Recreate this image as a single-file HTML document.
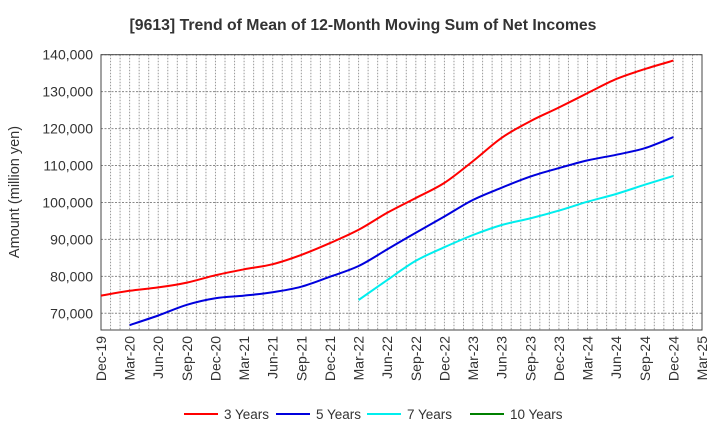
<!DOCTYPE html>
<html><head><meta charset="utf-8"><style>
body{margin:0;background:#fff;}
svg text{font-family:"Liberation Sans",Arial,sans-serif;}
</style></head><body>
<svg id="chart" width="720" height="440" viewBox="0 0 720 440" xmlns="http://www.w3.org/2000/svg">
<text x="363" y="30" text-anchor="middle" font-size="15.8" font-weight="bold" fill="#333">[9613]  Trend of Mean of 12-Month Moving Sum of Net Incomes</text>
<text transform="translate(19,192) rotate(-90)" text-anchor="middle" font-size="14.5" fill="#333">Amount (million yen)</text>
<g id="grid"></g><g id="axes"></g><g id="series"></g><g id="legend"></g>
</svg>
<script>
const xLabels=["Dec-19","Mar-20","Jun-20","Sep-20","Dec-20","Mar-21","Jun-21","Sep-21","Dec-21","Mar-22","Jun-22","Sep-22","Dec-22","Mar-23","Jun-23","Sep-23","Dec-23","Mar-24","Jun-24","Sep-24","Dec-24","Mar-25"];
const yTicks=[70000,80000,90000,100000,110000,120000,130000,140000];
const seriesNames=["3 Years","5 Years","7 Years","10 Years"];
const seriesColors=["#ff0000","#0000dd","#00eeee","#008000"];
// quarterly values, index = quarter offset from Dec-19
const s3=[74800,76100,77000,78300,80300,81900,83300,85800,89000,92600,97200,101200,105300,111200,117500,122000,125700,129600,133400,136100,138400];
const s5=[null,66800,69400,72300,74100,74800,75700,77200,79900,82800,87300,91800,96200,100700,104000,107000,109300,111400,112900,114700,117700];
const s7=[null,null,null,null,null,null,null,null,null,73600,79000,84200,87900,91200,93900,95700,97800,100200,102300,104800,107200];
const s10=[];
const X0=101,X1=702,Y0=54.7,YB=330;
const NS="http://www.w3.org/2000/svg";
function xq(q){return X0+q*3*(X1-X0)/63;}
function xm(m){return X0+m*(X1-X0)/63;}
function y(v){return 313.3-(v-70000)*(313.3-Y0)/70000;}
function mk(tag,attrs,parent){const e=document.createElementNS(NS,tag);for(const k in attrs)e.setAttribute(k,attrs[k]);parent.appendChild(e);return e;}
function smooth(p){let d='M'+p[0][0].toFixed(1)+','+p[0][1].toFixed(1);
for(let i=0;i<p.length-1;i++){const a=p[i-1]||p[i],b=p[i],c=p[i+1],e=p[i+2]||c;
const c1=[b[0]+(c[0]-a[0])/6,b[1]+(c[1]-a[1])/6],c2=[c[0]-(e[0]-b[0])/6,c[1]-(e[1]-b[1])/6];
d+=` C${c1[0].toFixed(1)},${c1[1].toFixed(1)} ${c2[0].toFixed(1)},${c2[1].toFixed(1)} ${c[0].toFixed(1)},${c[1].toFixed(1)}`;}
return d;}
const grid=document.getElementById('grid'),axes=document.getElementById('axes'),ser=document.getElementById('series'),leg=document.getElementById('legend');
for(let m=1;m<63;m++){const l=mk('line',{x1:xm(m),x2:xm(m),y1:Y0,y2:YB,stroke:'#999','stroke-dasharray':'1.5,1.5','stroke-width':1},grid);

}
yTicks.forEach(v=>{const l=mk('line',{x1:X0,x2:X1,y1:y(v),y2:y(v),stroke:'#888','stroke-dasharray':'2,1.5','stroke-width':1},grid);


const t=mk('text',{x:93,y:y(v)+5,'text-anchor':'end','font-size':14,fill:'#333'},axes);t.textContent=v.toLocaleString('en-US');

});
const frame=mk('rect',{x:X0,y:Y0,width:X1-X0,height:YB-Y0,fill:'none',stroke:'#444','stroke-width':1},axes);


xLabels.forEach((lab,i)=>{const x=xq(i);const t=mk('text',{transform:`translate(${x+5},336) rotate(-90)`,'text-anchor':'end','font-size':14,fill:'#333'},axes);t.textContent=lab;

});
[s3,s5,s7,s10].forEach((s,k)=>{const pts=[];s.forEach((v,i)=>{if(v!=null)pts.push([xq(i),y(v)]);});
if(pts.length){const p=mk('path',{d:smooth(pts),fill:'none',stroke:seriesColors[k],'stroke-width':2,'stroke-linejoin':'round'},ser);

}});
const lx=[184,276,367,470];
seriesNames.forEach((n,k)=>{const g=mk('g',{},leg);


mk('line',{x1:lx[k],x2:lx[k]+34,y1:414,y2:414,stroke:seriesColors[k],'stroke-width':2},g);
const t=mk('text',{x:lx[k]+40,y:419,'font-size':13.5,fill:'#333'},g);t.textContent=n;});
</script>
</body></html>
